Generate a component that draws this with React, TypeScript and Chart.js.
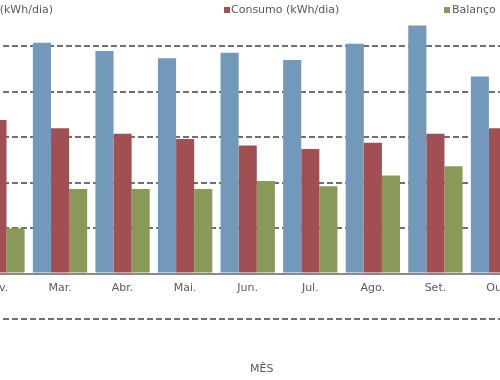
import React, { useEffect, useRef } from "react";
import { Chart, registerables } from "chart.js";

Chart.register(...registerables);

const months = ["Jan.", "Fev.", "Mar.", "Abr.", "Mai.", "Jun.", "Jul.", "Ago.", "Set.", "Out.", "Nov.", "Dez."];
const producao = [19.6, 21.8, 25.4, 24.5, 23.7, 24.3, 23.5, 25.3, 27.3, 21.7, 18.2, 16.0];
const consumo = [17.4, 16.9, 16.0, 15.4, 14.8, 14.1, 13.7, 14.4, 15.4, 16.0, 16.6, 17.8];
const balanco = [2.2, 5.0, 9.3, 9.3, 9.3, 10.2, 9.6, 10.8, 11.8, 5.7, 1.6, -1.8];
const seriesLabels = ["Produção (kWh/dia)", "Consumo (kWh/dia)", "Balanço (kWh/dia)"];
const axisTitle = "MÊS";

const BLUE = "#7399BA";
const RED = "#A14F52";
const GREEN = "#899A58";
const TEXT = "#595959";
const FONT = "'DejaVu Sans', sans-serif";

export default function App() {
  const ref = useRef<HTMLCanvasElement>(null);

  useEffect(() => {
    const chart = new Chart(ref.current!, {
      type: "bar",
      data: {
        labels: months,
        datasets: [
          { label: seriesLabels[0], data: producao, backgroundColor: BLUE },
          { label: seriesLabels[1], data: consumo, backgroundColor: RED },
          { label: seriesLabels[2], data: balanco, backgroundColor: GREEN },
        ],
      },
      options: {
        animation: false,
        responsive: true,
        maintainAspectRatio: false,
        layout: { padding: { left: 103.6, right: 145.6, top: 14.6, bottom: 61 } },
        plugins: { legend: { display: false }, tooltip: { enabled: false } },
        datasets: { bar: { barPercentage: 1, categoryPercentage: 0.868 } },
        scales: {
          x: {
            position: { y: 0 } as any,
            grid: { display: true, color: "rgba(0,0,0,0)", drawTicks: false },
            border: { display: true, color: "#8a8a8a", width: 2 },
            ticks: {
              color: TEXT,
              font: { family: FONT, size: 11 },
              padding: 8,
              autoSkip: false,
              maxRotation: 0,
            },
            afterFit: (s: any) => {
              s.height = 0;
            },
          },
          y: {
            min: -5,
            max: 28.5,
            ticks: { display: false, stepSize: 5 },
            grid: { color: "#707070", lineWidth: 2, drawTicks: false },
            border: { display: false, dash: [6, 3] },
            afterBuildTicks: (s: any) => {
              s.ticks = s.ticks.filter((t: any) => Math.abs(t.value % 5) < 1e-9);
            },
            afterFit: (s: any) => {
              s.width = 0;
            },
          },
        },
      },
    });
    return () => chart.destroy();
  }, []);

  const text: React.CSSProperties = {
    position: "absolute",
    color: TEXT,
    fontFamily: FONT,
    fontSize: 11,
    lineHeight: "12px",
    whiteSpace: "nowrap",
  };
  const box = (left: number, color: string): React.CSSProperties => ({
    position: "absolute",
    left,
    top: 7,
    width: 6,
    height: 6,
    background: color,
  });

  return (
    <div
      style={{
        position: "fixed",
        left: 0,
        top: 0,
        width: 500,
        height: 380,
        overflow: "hidden",
        background: "#fff",
      }}
    >
      <div style={{ position: "absolute", left: -200, top: 0, width: 1000, height: 380 }}>
        <canvas ref={ref} />
      </div>
      <div style={{ ...text, right: 447, top: 4 }}>
        <span
          style={{ display: "inline-block", width: 6, height: 6, background: BLUE, marginRight: 3 }}
        />
        {seriesLabels[0]}
      </div>
      <div style={box(224, RED)} />
      <div style={{ ...text, left: 231, top: 4 }}>{seriesLabels[1]}</div>
      <div style={box(444, GREEN)} />
      <div style={{ ...text, left: 452, top: 4 }}>{seriesLabels[2]}</div>
      <div style={{ ...text, left: 250, top: 363 }}>{axisTitle}</div>
    </div>
  );
}
